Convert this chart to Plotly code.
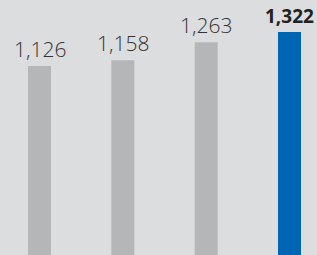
import plotly.graph_objects as go

categories = ["FY1", "FY2", "FY3", "FY4"]
values = [1126, 1158, 1263, 1322]
labels = ["1,126", "1,158", "1,263", "1,322"]
colors = ["#b5b6b8", "#b5b6b8", "#b5b6b8", "#0066b3"]

xs = list(range(len(categories)))

fig = go.Figure()
fig.add_trace(go.Bar(x=xs, y=values, width=0.276, marker=dict(color=colors, line=dict(width=0)),
                     hoverinfo="skip"))

for i, (v, lab) in enumerate(zip(values, labels)):
    last = i == len(values) - 1
    fig.add_annotation(x=i, y=v, text=lab, showarrow=False, yanchor="bottom", xanchor="center",
                       yshift=1,
                       font=dict(family="Open Sans", size=21 if not last else 19,
                                 color="#333333" if not last else "#222222",
                                 weight=300 if not last else 700))

fig.update_layout(
    width=317, height=255,
    margin=dict(l=0, r=0, t=0, b=0),
    paper_bgcolor="#dcdddf", plot_bgcolor="#dcdddf",
    showlegend=False,
    xaxis=dict(range=[-0.474, 3.33], visible=False, fixedrange=True),
    yaxis=dict(range=[36, 1506], visible=False, fixedrange=True),
)
fig.write_html("out.html", config={"displayModeBar": False},
               post_script="document.body.style.margin='0';document.body.style.overflow='hidden';")
